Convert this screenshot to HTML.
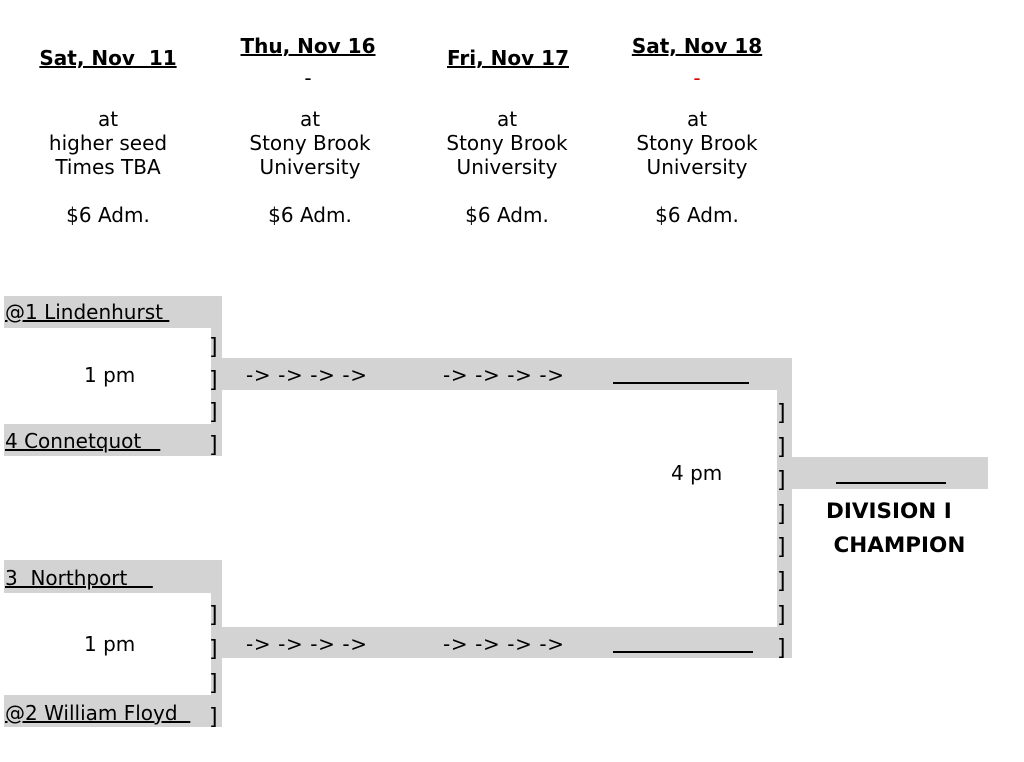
<!DOCTYPE html>
<html><head><meta charset="utf-8"><style>
body{margin:0;width:1024px;height:762px;background:#fff;position:relative;font-family:"DejaVu Sans","Liberation Sans",sans-serif;font-size:20px;color:#000;overflow:hidden}
.g{position:absolute;background:#d3d3d3}
.w{position:absolute;background:#fff}
.t{position:absolute;white-space:pre;line-height:22px}
.c{transform:translateX(-50%);text-align:center}
.b{font-weight:bold;text-decoration:underline;font-size:20px}
.u{text-decoration:underline}
.k{font-size:22px}
</style></head><body>
<div class="t c b" style="left:108px;top:47px">Sat, Nov  11</div>
<div class="t c b" style="left:308px;top:35px">Thu, Nov 16</div>
<div class="t c" style="left:308px;top:67px">-</div>
<div class="t c b" style="left:508px;top:47px">Fri, Nov 17</div>
<div class="t c b" style="left:697px;top:35px">Sat, Nov 18</div>
<div class="t c" style="left:697px;top:67px;color:#d00">-</div>
<div class="t c" style="left:108px;top:107px;line-height:24px">at
higher seed
Times TBA

$6 Adm.</div>
<div class="t c" style="left:310px;top:107px;line-height:24px">at
Stony Brook
University

$6 Adm.</div>
<div class="t c" style="left:507px;top:107px;line-height:24px">at
Stony Brook
University

$6 Adm.</div>
<div class="t c" style="left:697px;top:107px;line-height:24px">at
Stony Brook
University

$6 Adm.</div>

<div class="g" style="left:4px;top:296px;width:218px;height:160px"></div>
<div class="w" style="left:4px;top:328px;width:207px;height:96px"></div>
<div class="g" style="left:4px;top:560px;width:218px;height:167px"></div>
<div class="w" style="left:4px;top:593px;width:207px;height:102px"></div>
<div class="g" style="left:222px;top:358px;width:570px;height:300px"></div>
<div class="w" style="left:222px;top:390px;width:555px;height:237px"></div>
<div class="g" style="left:792px;top:457px;width:196px;height:32px"></div>

<div class="t u" style="left:5px;top:301px">@1 Lindenhurst </div>
<div class="t u" style="left:5px;top:430px">4 Connetquot   </div>
<div class="t u" style="left:5px;top:567px">3  Northport    </div>
<div class="t u" style="left:5px;top:702px">@2 William Floyd  </div>
<div class="t" style="left:84px;top:364px">1 pm</div>
<div class="t" style="left:84px;top:633px">1 pm</div>
<div class="t" style="left:671px;top:462px">4 pm</div>

<div class="t k" style="left:209px;top:332px;line-height:32.5px">]
]
]
]</div>
<div class="t k" style="left:209px;top:599px;line-height:34px">]
]
]
]</div>
<div class="t k" style="left:777px;top:397px;line-height:33.6px">]
]
]
]
]
]
]
]</div>

<div class="t" style="left:246px;top:364px;letter-spacing:0.6px">-&gt; -&gt; -&gt; -&gt;</div>
<div class="t" style="left:443px;top:364px;letter-spacing:0.6px">-&gt; -&gt; -&gt; -&gt;</div>
<div class="t" style="left:246px;top:633px;letter-spacing:0.6px">-&gt; -&gt; -&gt; -&gt;</div>
<div class="t" style="left:443px;top:633px;letter-spacing:0.6px">-&gt; -&gt; -&gt; -&gt;</div>
<div style="position:absolute;left:613px;top:382px;width:136px;height:1.5px;background:#000"></div>
<div style="position:absolute;left:613px;top:651px;width:140px;height:1.5px;background:#000"></div>
<div style="position:absolute;left:836px;top:482px;width:110px;height:1.5px;background:#000"></div>
<div class="t" style="left:826px;top:495px;font-weight:bold;font-size:21.5px;line-height:34px">DIVISION I
 CHAMPION</div>
</body></html>
